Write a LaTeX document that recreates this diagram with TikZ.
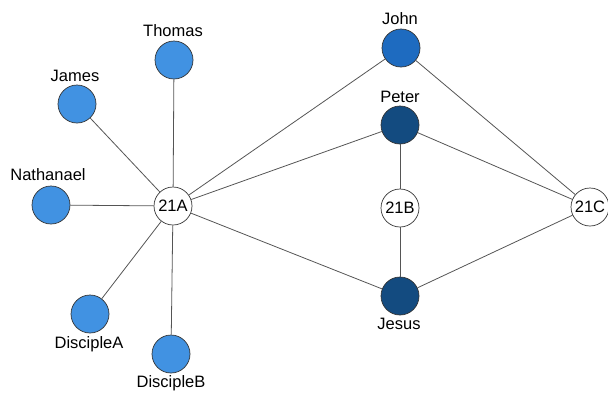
\documentclass[tikz,border=0pt]{standalone}
\usepackage{fontspec}
\setmainfont{Liberation Sans}
\definecolor{light}{HTML}{4192E2}
\definecolor{mid}{HTML}{1E6BC0}
\definecolor{dark}{HTML}{134B80}
\definecolor{edgec}{HTML}{555555}
\begin{document}
\begin{tikzpicture}[x=1pt,y=-1pt,
  person/.style={circle,draw=black!80,line width=0.7pt,minimum size=38pt,inner sep=0pt},
  hub/.style={circle,draw=black!80,line width=0.7pt,fill=white,minimum size=38pt,inner sep=0pt,font=\fontsize{16.5}{19}\selectfont},
  lbl/.style={inner sep=0pt,font=\fontsize{16.5}{19}\selectfont},
  edge/.style={draw=edgec,line width=0.8pt}]
\useasboundingbox (0,0) rectangle (608,392);
% hubs
\node[hub] (A) at (173,206) {21A};
\node[hub] (B) at (400,208) {21B};
\node[hub] (C) at (590,207) {21C};
% people
\node[person,fill=light] (thomas) at (174,60) {};
\node[person,fill=light] (james) at (77,104) {};
\node[person,fill=light] (nath) at (51,205) {};
\node[person,fill=light] (dA) at (90,314) {};
\node[person,fill=light] (dB) at (171,354) {};
\node[person,fill=mid] (john) at (401,48) {};
\node[person,fill=dark] (peter) at (400,125) {};
\node[person,fill=dark] (jesus) at (400,296) {};
% labels
\node[lbl] (lthomas) at (173,31) {Thomas};
\node[lbl] (ljames) at (75,76) {James};
\node[lbl] (lnath) at (48,175) {Nathanael};
\node[lbl] (ldA) at (89,344) {DiscipleA};
\node[lbl] (ldB) at (171,383) {DiscipleB};
\node[lbl] (ljohn) at (400,19) {John};
\node[lbl] (lpeter) at (400,97) {Peter};
\node[lbl] (ljesus) at (399,324) {Jesus};
% edges
\draw[edge] (A) -- (thomas);
\draw[edge] (A) -- (james);
\draw[edge] (A) -- (nath);
\draw[edge] (A) -- (dA);
\draw[edge] (A) -- (dB);
\draw[edge] (A) -- (john);
\draw[edge] (A) -- (peter);
\draw[edge] (A) -- (jesus);
\draw[edge] (peter) -- (B);
\draw[edge] (B) -- (jesus);
\draw[edge] (peter) -- (C);
\draw[edge] (john) -- (C);
\draw[edge] (jesus) -- (C);
\end{tikzpicture}
\end{document}
